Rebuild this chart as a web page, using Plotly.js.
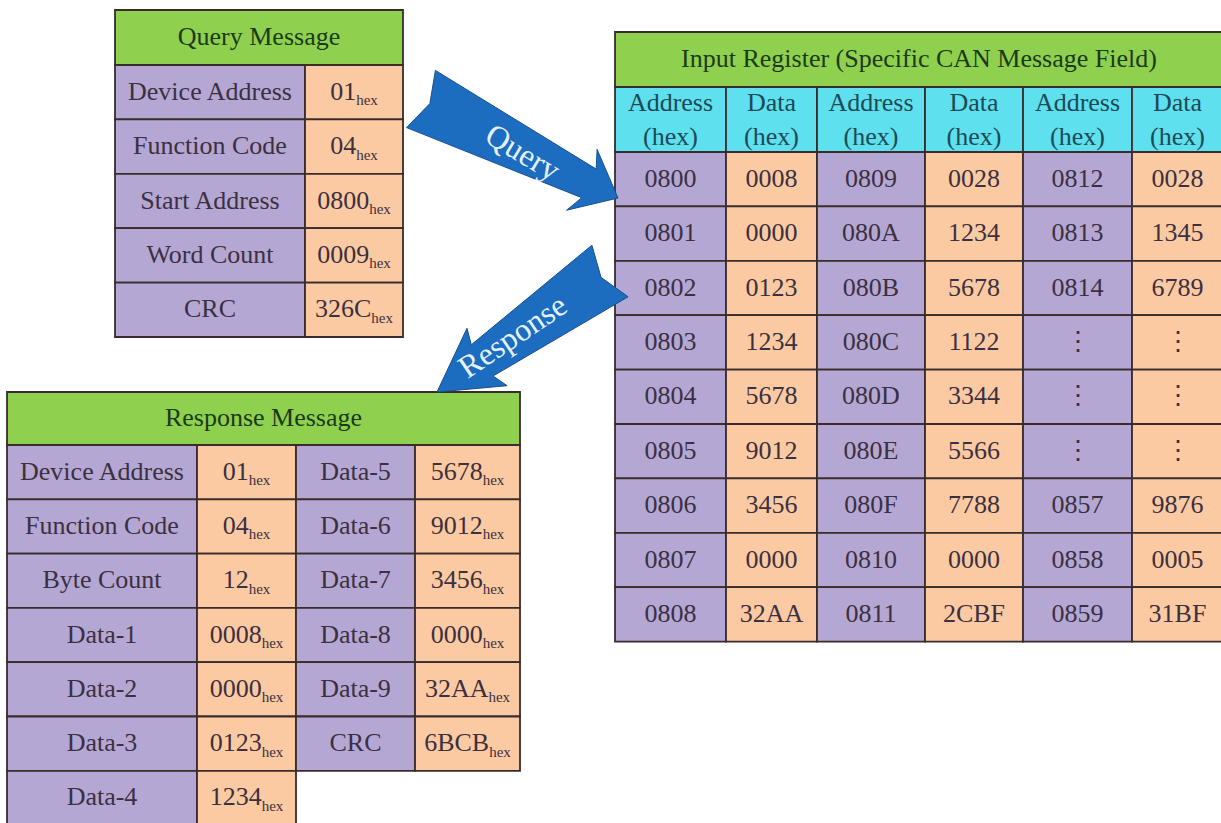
<!DOCTYPE html>
<html>
<head>
<meta charset="utf-8">
<script src="https://cdn.plot.ly/plotly-3.0.1.min.js"></script>
<style>html,body{margin:0;padding:0;background:#fff;}#chart{width:1221px;height:823px;}</style>
</head>
<body>
<div id="chart"></div>
<script>
// ---------------- DATA ----------------
const queryHeader = 'Query Message';
const queryLabels = ['Device Address', 'Function Code', 'Start Address', 'Word Count', 'CRC'];
const queryValues = ['01', '04', '0800', '0009', '326C'];

const registerHeader = 'Input Register (Specific CAN Message Field)';
const registerColHeads = ['Address', 'Data', 'Address', 'Data', 'Address', 'Data'];
const regAddr1 = ['0800', '0801', '0802', '0803', '0804', '0805', '0806', '0807', '0808'];
const regData1 = ['0008', '0000', '0123', '1234', '5678', '9012', '3456', '0000', '32AA'];
const regAddr2 = ['0809', '080A', '080B', '080C', '080D', '080E', '080F', '0810', '0811'];
const regData2 = ['0028', '1234', '5678', '1122', '3344', '5566', '7788', '0000', '2CBF'];
const regAddr3 = ['0812', '0813', '0814', '⋮', '⋮', '⋮', '0857', '0858', '0859'];
const regData3 = ['0028', '1345', '6789', '⋮', '⋮', '⋮', '9876', '0005', '31BF'];

const responseHeader = 'Response Message';
const responseLabels1 = ['Device Address', 'Function Code', 'Byte Count', 'Data-1', 'Data-2', 'Data-3', 'Data-4'];
const responseValues1 = ['01', '04', '12', '0008', '0000', '0123', '1234'];
const responseLabels2 = ['Data-5', 'Data-6', 'Data-7', 'Data-8', 'Data-9', 'CRC'];
const responseValues2 = ['5678', '9012', '3456', '0000', '32AA', '6BCB'];

const hexSuffix = 'hex';
const arrowLabels = ['Query', 'Response'];

// ---------------- STYLE / LAYOUT ----------------
const FONT = "'Liberation Serif', 'Times New Roman', 'DejaVu Serif', serif";
const C = {
  green: '#8fd14f', cyan: '#5ee0ee', purple: '#b5a7d3', peach: '#fbcaa3',
  border: '#3a2c2c', text: '#3b3040', greenText: '#1c3a18', cyanText: '#1f4a55',
  arrow: '#1c6cc0', arrowEdge: '#174f8f', arrowText: '#e4f2ff'
};
const BW = 1.8;

const shapes = [];
const traces = [];
const annotations = [];

function rect(x0, x1, y0, y1, fill) {
  shapes.push({type: 'rect', xref: 'x', yref: 'y', x0: x0, x1: x1, y0: y0, y1: y1,
    fillcolor: fill, line: {color: C.border, width: BW}, layer: 'below'});
}
function texts(xs, ys, tx, size, color) {
  traces.push({type: 'scatter', mode: 'text', x: xs, y: ys, text: tx,
    textposition: 'middle center', cliponaxis: false, hoverinfo: 'skip', showlegend: false,
    textfont: {family: FONT, size: size, color: color}});
}
const hex = v => v + '<sub><span style="font-size:15px">' + hexSuffix + '</span></sub>';

// column of cells
function column(xEdges, ci, top, rowH, values, fill, size, fmt) {
  const x0 = xEdges[ci], x1 = xEdges[ci + 1];
  const xs = [], ys = [];
  values.forEach((v, i) => {
    const y0 = top + i * rowH, y1 = y0 + rowH;
    rect(x0, x1, y0, y1, fill);
    xs.push((x0 + x1) / 2); ys.push((y0 + y1) / 2 + 1);
  });
  texts(xs, ys, values.map(fmt || (v => v)), size, C.text);
}

// ---- Query table ----
const QX = [115, 305, 403], QTOP = 10, QHEAD = 65, QROW = 54.4;
rect(QX[0], QX[2], QTOP, QHEAD, C.green);
texts([(QX[0] + QX[2]) / 2], [(QTOP + QHEAD) / 2 + 1], [queryHeader], 26, C.greenText);
column(QX, 0, QHEAD, QROW, queryLabels, C.purple, 26);
column(QX, 1, QHEAD, QROW, queryValues, C.peach, 26, hex);

// ---- Register table ----
const RX = [615, 726, 817, 925, 1023, 1132, 1223], RTOP = 32, RHEAD = 87, RSUB = 152, RROW = 54.4;
rect(RX[0], RX[6], RTOP, RHEAD, C.green);
texts([(RX[0] + RX[6]) / 2], [(RTOP + RHEAD) / 2 + 1], [registerHeader], 26, C.greenText);
const hx = [], hy = [];
registerColHeads.forEach((h, i) => {
  rect(RX[i], RX[i + 1], RHEAD, RSUB, C.cyan);
  hx.push((RX[i] + RX[i + 1]) / 2); hy.push((RHEAD + RSUB) / 2 + 2);
});
texts(hx, hy, registerColHeads.map(h => h + '<br>(hex)'), 26, C.cyanText);
[regAddr1, regData1, regAddr2, regData2, regAddr3, regData3].forEach((col, i) => {
  column(RX, i, RSUB, RROW, col, i % 2 === 0 ? C.purple : C.peach, 26);
});

// ---- Response table ----
const SX = [7, 197, 296, 415, 520], STOP = 392, SHEAD = 445, SROW = 54.3;
rect(SX[0], SX[4], STOP, SHEAD, C.green);
texts([(SX[0] + SX[4]) / 2], [(STOP + SHEAD) / 2 + 1], [responseHeader], 26, C.greenText);
column(SX, 0, SHEAD, SROW, responseLabels1, C.purple, 26);
column(SX, 1, SHEAD, SROW, responseValues1, C.peach, 26, hex);
column(SX, 2, SHEAD, SROW, responseLabels2, C.purple, 26);
column(SX, 3, SHEAD, SROW, responseValues2, C.peach, 26, hex);

// ---- Arrows (notched, tapered block arrows) ----
const arrows = [
  {tail: [421, 99], tip: [618, 198], tailHalf: 32, neck: 188, neckHalf: 16, barb: 180, barbHalf: 34, notch: 10,
   label: [523, 152], angle: 31},
  {tail: [610, 271], tip: [437, 392], tailHalf: 31.5, neck: 156, neckHalf: 19, barb: 150, barbHalf: 35, notch: 11,
   label: [512, 336], angle: -34}
];
arrows.forEach((a, k) => {
  const dx = a.tip[0] - a.tail[0], dy = a.tip[1] - a.tail[1];
  const L = Math.hypot(dx, dy), ux = dx / L, uy = dy / L, px = -uy, py = ux;
  const pt = (al, pe) => [a.tail[0] + ux * al + px * pe, a.tail[1] + uy * al + py * pe];
  const pts = [pt(0, -a.tailHalf), pt(a.neck, -a.neckHalf), pt(a.barb, -a.barbHalf), pt(L, 0),
    pt(a.barb, a.barbHalf), pt(a.neck, a.neckHalf), pt(0, a.tailHalf), pt(a.notch, 0)];
  const path = 'M' + pts.map(p => p[0].toFixed(1) + ',' + p[1].toFixed(1)).join('L') + 'Z';
  shapes.push({type: 'path', xref: 'x', yref: 'y', path: path, fillcolor: C.arrow,
    line: {color: C.arrowEdge, width: 1}, layer: 'above'});
  annotations.push({x: a.label[0], y: a.label[1], xref: 'x', yref: 'y', text: arrowLabels[k],
    showarrow: false, textangle: a.angle, font: {family: FONT, size: 32, color: C.arrowText}});
});

const layout = {
  width: 1221, height: 823, margin: {l: 0, r: 0, t: 0, b: 0, pad: 0},
  paper_bgcolor: '#ffffff', plot_bgcolor: '#ffffff',
  xaxis: {range: [0, 1221], visible: false, fixedrange: true},
  yaxis: {range: [823, 0], visible: false, fixedrange: true},
  shapes: shapes, annotations: annotations, showlegend: false
};
Plotly.newPlot('chart', traces, layout, {staticPlot: true, displayModeBar: false});
</script>
</body>
</html>
